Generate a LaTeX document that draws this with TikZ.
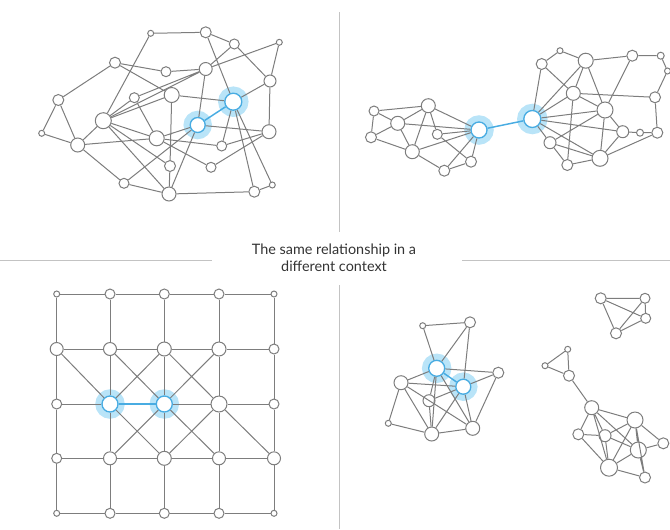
\documentclass[tikz,border=0pt]{standalone}
\usepackage{fontspec}
\setmainfont{Lato}
\definecolor{edgegray}{RGB}{125,125,125}
\definecolor{rulegray}{RGB}{195,195,195}
\definecolor{hiblue}{RGB}{72,172,226}
\definecolor{halo}{RGB}{185,228,248}
\tikzset{every picture/.style={line width=0.75pt}}
\tikzset{
  vtx/.style={circle,draw=edgegray,fill=white,inner sep=0pt,minimum size=#1*1.5pt},
  hl/.style={vtx=#1,draw=hiblue,line width=1pt,preaction={draw=halo,line width=10pt}},
  lnk/.style={draw=edgegray},
  blnk/.style={draw=hiblue,line width=1.1pt},
  rule/.style={draw=rulegray}
}

\begin{document}
\begin{tikzpicture}[x=0.75pt,y=0.75pt,yscale=-1,xscale=1]
\useasboundingbox (0,0) rectangle (670,529);

%Straight Lines: dividers
\draw [rule] (339,12) -- (339,232) ;
\draw [rule] (339,285) -- (339,529) ;
\draw [rule] (0,260) -- (212,260) ;
\draw [rule] (462,260) -- (670,260) ;

% Text Node
\node (title) at (334,258) [align=center,text=black!80,font=\fontsize{10.8}{12.8}\selectfont] {The same relationship in a\\different context};

%Shape: top left network
\node [vtx=3] (tlA) at (150.7,33.3) {};
\node [vtx=5.5] (tlB) at (205.7,32.3) {};
\node [vtx=5] (tlC) at (234.3,44) {};
\node [vtx=3] (tlD) at (279.3,42.3) {};
\node [vtx=5.5] (tlE) at (115,62.7) {};
\node [vtx=5] (tlF) at (166,71.7) {};
\node [vtx=6.5] (tlG) at (205.7,69) {};
\node [vtx=6] (tlH) at (270,81) {};
\node [vtx=5.5] (tlI) at (58.3,100) {};
\node [vtx=5] (tlJ) at (134.3,97.7) {};
\node [vtx=7.5] (tlK) at (171.7,95) {};
\node [hl=8.5] (tlL) at (233.3,101.7) {};
\node [vtx=8] (tlM) at (103.3,120.7) {};
\node [hl=7.5] (tlN) at (197.7,125) {};
\node [vtx=3] (tlO) at (41.7,133.3) {};
\node [vtx=7] (tlP) at (269,131.7) {};
\node [vtx=7] (tlQ) at (77.7,145) {};
\node [vtx=7.5] (tlR) at (156.7,138.3) {};
\node [vtx=5] (tlS) at (221.7,146) {};
\node [vtx=5.5] (tlT) at (170,166) {};
\node [vtx=5] (tlU) at (211,167.3) {};
\node [vtx=5] (tlV) at (124,183.3) {};
\node [vtx=7] (tlW) at (169,194) {};
\node [vtx=5.5] (tlX) at (254.3,191.7) {};
\node [vtx=3] (tlY) at (272.3,185) {};

\draw [lnk] (tlA) -- (tlB) (tlA) -- (tlM) (tlB) -- (tlC) (tlB) -- (tlL) (tlC) -- (tlG) (tlC) -- (tlH) (tlD) -- (tlG) (tlD) -- (tlH) ;
\draw [lnk] (tlE) -- (tlI) (tlE) -- (tlF) (tlE) -- (tlK) (tlF) -- (tlG) (tlJ) -- (tlG) (tlM) -- (tlG) (tlG) -- (tlN) ;
\draw [lnk] (tlH) -- (tlL) (tlH) -- (tlP) (tlI) -- (tlO) (tlI) -- (tlQ) (tlO) -- (tlQ) (tlQ) -- (tlM) (tlQ) -- (tlR) (tlQ) -- (tlV) ;
\draw [lnk] (tlV) -- (tlW) (tlV) -- (tlN) (tlM) -- (tlJ) (tlM) -- (tlK) (tlM) -- (tlR) (tlM) -- (tlT) (tlM) -- (tlW) (tlJ) -- (tlR) ;
\draw [lnk] (tlK) -- (tlT) (tlK) -- (tlL) (tlL) -- (tlS) (tlL) -- (tlX) (tlL) -- (tlY) (tlN) -- (tlW) (tlN) -- (tlP) (tlN) -- (tlR) ;
\draw [lnk] (tlR) -- (tlU) (tlR) -- (tlS) (tlT) -- (tlW) (tlS) -- (tlP) (tlU) -- (tlP) (tlW) -- (tlX) (tlX) -- (tlY) ;
\draw [blnk] (tlL) -- (tlN) ;

%Shape: top right network, left group
\node [vtx=5] (trA) at (374,111) {};
\node [vtx=7] (trB) at (428.3,105.7) {};
\node [vtx=7] (trC) at (397.7,123.3) {};
\node [vtx=5.5] (trD) at (371,137.3) {};
\node [vtx=5] (trE) at (437.3,134.3) {};
\node [vtx=7] (trF) at (412.3,151.7) {};
\node [hl=8] (trG) at (479,130) {};
\node [vtx=5.5] (trH) at (471,161.7) {};
\node [vtx=5.5] (trI) at (444.3,170.7) {};

\draw [lnk] (trA) -- (trB) (trA) -- (trC) (trA) -- (trD) (trC) -- (trB) (trC) -- (trD) (trD) -- (trF) (trC) -- (trF) (trC) -- (trG) ;
\draw [lnk] (trB) -- (trF) (trB) -- (trG) (trB) -- (trE) (trE) -- (trG) (trE) -- (trH) (trF) -- (trG) (trF) -- (trI) (trI) -- (trH) (trI) -- (trG) (trH) -- (trG) ;

%Shape: top right network, right group
\node [hl=8.5] (trb0) at (532.3,119) {};
\node [vtx=5.5] (trb1) at (541.7,64) {};
\node [vtx=3] (trb2) at (560,50.7) {};
\node [vtx=7.5] (trb3) at (585.7,60.7) {};
\node [vtx=5.5] (trb4) at (632.3,55.7) {};
\node [vtx=3.5] (trb5) at (660.7,55.7) {};
\node [vtx=3] (trb6) at (667.5,71) {};
\node [vtx=7] (trb7) at (573.3,93.3) {};
\node [vtx=5.5] (trb8) at (655,97.3) {};
\node [vtx=8] (trb9) at (605,110) {};
\node [vtx=6] (trb10) at (622.7,131.7) {};
\node [vtx=3.5] (trb11) at (640,132.7) {};
\node [vtx=5.5] (trb12) at (657.3,132.7) {};
\node [vtx=6] (trb13) at (550,142.7) {};
\node [vtx=8] (trb14) at (600,158.3) {};
\node [vtx=5.5] (trb15) at (567.3,165) {};

\draw [lnk] (trb1) -- (trb2) (trb2) -- (trb3) (trb3) -- (trb4) (trb4) -- (trb5) (trb5) -- (trb6) (trb6) -- (trb8) (trb8) -- (trb12) (trb12) -- (trb11) (trb11) -- (trb10) ;
\draw [lnk] (trb1) -- (trb0) (trb1) -- (trb7) (trb3) -- (trb7) (trb3) -- (trb0) (trb3) -- (trb9) (trb4) -- (trb9) (trb7) -- (trb8) (trb7) -- (trb9) (trb7) -- (trb0) (trb7) -- (trb15) ;
\draw [lnk] (trb9) -- (trb0) (trb9) -- (trb10) (trb9) -- (trb14) (trb9) -- (trb13) (trb0) -- (trb10) (trb0) -- (trb14) (trb0) -- (trb13) (trb13) -- (trb15) (trb13) -- (trb14) (trb15) -- (trb14) (trb14) -- (trb10) (trb14) -- (trb12) ;
\draw [blnk] (trG) -- (trb0) ;

%Shape: bottom left grid
\foreach \c/\x in {0/56.7,1/110,2/164.3,3/219,4/274}
  \foreach \r/\y in {0/294,1/349,2/404,3/458.3,4/513.3}
    \coordinate (g\c\r) at (\x,\y);
\foreach \n/\s in {00/3,10/5,20/5,30/5,40/3,01/6.5,11/6.5,21/7,31/7,41/5,02/5,32/8,42/5,03/5,13/6.5,23/7,33/6.5,43/6.5,04/3,14/5,24/5,34/5,44/3}
  \node [vtx=\s] (bl\n) at (g\n) {};
\node [hl=8] (bl12) at (g12) {};
\node [hl=8] (bl22) at (g22) {};

\foreach \r in {0,...,4}{
  \draw [lnk] (bl0\r) -- (bl1\r) (bl2\r) -- (bl3\r) (bl3\r) -- (bl4\r) ;
  \draw [lnk] (bl\r0) -- (bl\r1) (bl\r1) -- (bl\r2) (bl\r2) -- (bl\r3) (bl\r3) -- (bl\r4) ;
}
\draw [lnk] (bl10) -- (bl20) (bl11) -- (bl21) (bl13) -- (bl23) (bl14) -- (bl24) ;
\draw [lnk] (bl01) -- (bl12) (bl11) -- (bl22) (bl21) -- (bl12) (bl21) -- (bl32) (bl31) -- (bl22) ;
\draw [lnk] (bl12) -- (bl23) (bl22) -- (bl13) (bl22) -- (bl33) (bl32) -- (bl23) (bl32) -- (bl43) ;
\draw [blnk] (bl12) -- (bl22) ;

%Shape: bottom right, left group
\node [vtx=3] (brA) at (422.7,325.7) {};
\node [vtx=5.5] (brB) at (470,322.3) {};
\node [hl=8] (brC) at (436.7,368.3) {};
\node [vtx=5.5] (brD) at (498.3,372.7) {};
\node [vtx=7] (brE) at (401,382.7) {};
\node [hl=7.5] (brF) at (463.3,386.7) {};
\node [vtx=6] (brG) at (429,400.7) {};
\node [vtx=3] (brH) at (388.3,423.3) {};
\node [vtx=7] (brI) at (431.7,434) {};
\node [vtx=7] (brJ) at (472.7,428.3) {};

\draw [lnk] (brA) -- (brB) (brA) -- (brC) (brB) -- (brC) (brB) -- (brF) (brC) -- (brD) (brC) -- (brE) (brC) -- (brG) (brC) -- (brI) (brC) -- (brJ) ;
\draw [lnk] (brE) -- (brF) (brE) -- (brH) (brE) -- (brI) (brE) -- (brJ) (brF) -- (brD) (brF) -- (brG) (brF) -- (brI) (brF) -- (brJ) ;
\draw [lnk] (brH) -- (brI) (brI) -- (brJ) (brD) -- (brJ) (brG) -- (brI) ;
\draw [blnk] (brC) -- (brF) ;

%Shape: bottom right, other groups
\node [vtx=5.5] (brK) at (600.7,298.3) {};
\node [vtx=5] (brL) at (645,298.3) {};
\node [vtx=5] (brM) at (645.7,318.3) {};
\node [vtx=5.5] (brN) at (616,333.3) {};
\draw [lnk] (brK) -- (brL) (brK) -- (brM) (brK) -- (brN) (brL) -- (brM) (brL) -- (brN) (brM) -- (brN) ;

\node [vtx=3] (brO) at (567.7,349.3) {};
\node [vtx=3] (brP) at (545,365.7) {};
\node [vtx=5.5] (brQ) at (569,375.7) {};
\node [vtx=7] (brR) at (591.7,407.7) {};
\node [vtx=8] (brS) at (635,420) {};
\node [vtx=5.5] (brT) at (578.3,434.3) {};
\node [vtx=6] (brU) at (605,435.7) {};
\node [vtx=8] (brV) at (638.3,450) {};
\node [vtx=5.5] (brW) at (663.3,443.3) {};
\node [vtx=8.5] (brX) at (609,467.7) {};
\node [vtx=5.5] (brY) at (645,477.5) {};

\draw [lnk] (brO) -- (brP) (brO) -- (brQ) (brP) -- (brQ) (brQ) -- (brR) ;
\draw [lnk] (brR) -- (brS) (brR) -- (brT) (brR) -- (brU) (brR) -- (brX) (brR) -- (brV) (brT) -- (brU) (brT) -- (brX) (brU) -- (brV) (brU) -- (brX) ;
\draw [lnk] (brS) -- (brU) (brS) -- (brV) (brS) -- (brW) (brS) -- (brX) (brS) -- (brY) (brV) -- (brW) (brV) -- (brX) (brV) -- (brY) (brX) -- (brY) ;

\end{tikzpicture}
\end{document}
